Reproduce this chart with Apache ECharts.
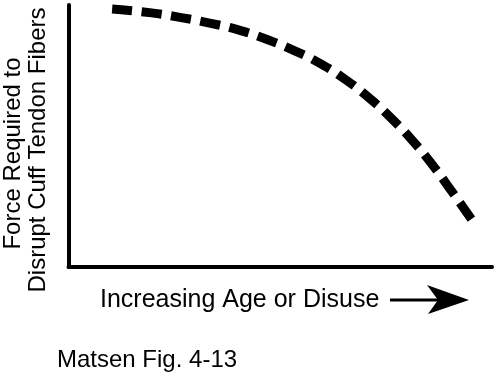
<!DOCTYPE html>
<html>
<head>
<meta charset="utf-8">
<script src="https://cdn.jsdelivr.net/npm/echarts@6/dist/echarts.min.js"></script>
<style>
  html, body { margin: 0; padding: 0; background: #fff; }
  #main { width: 496px; height: 378px; }
</style>
</head>
<body>
<div id="main"></div>
<script>
// curve (x: age/disuse, y: force), 0-100 scale
var ageX   = [10.3, 19.6, 26.6, 33.3, 40.1, 46.9, 53.3, 59.6, 65.5, 71.0, 76.4, 81.1, 85.6, 89.6, 93.6, 95.3];
var forceY = [98.5, 97.0, 95.2, 93.1, 90.5, 86.8, 82.6, 77.5, 71.4, 64.5, 56.5, 48.5, 39.7, 30.9, 21.8, 17.9];

var yTitle1 = 'Force Required to';
var yTitle2 = 'Disrupt Cuff Tendon Fibers';
var xTitle  = 'Increasing Age or Disuse';
var caption = 'Matsen Fig. 4-13';

var font = '"Liberation Sans", Arial, Helvetica, sans-serif';

var pts = [];
for (var i = 0; i < ageX.length; i++) {
    pts.push([ageX[i], forceY[i]]);
}

var chart = echarts.init(document.getElementById('main'));

var option = {
    animation: false,
    grid: { left: 68.5, top: 5, right: 4, bottom: 111 },
    xAxis: {
        type: 'value',
        min: 0, max: 100,
        axisLine: { show: true, lineStyle: { color: '#000', width: 4 } },
        axisTick: { show: false },
        axisLabel: { show: false },
        splitLine: { show: false }
    },
    yAxis: {
        type: 'value',
        min: 0, max: 100,
        axisLine: { show: true, lineStyle: { color: '#000', width: 4 } },
        axisTick: { show: false },
        axisLabel: { show: false },
        splitLine: { show: false }
    },
    series: [{
        type: 'line',
        data: pts,
        smooth: 0.5,
        symbol: 'none',
        lineStyle: {
            color: '#000',
            width: 9,
            type: [20, 9.7],
            cap: 'butt',
            join: 'round'
        }
    }],
    graphic: [
        {
            type: 'text', x: 13.5, y: 153.5, rotation: Math.PI / 2,
            style: { text: yTitle1, font: '24px ' + font, fill: '#000', textAlign: 'center', textVerticalAlign: 'middle' }
        },
        {
            type: 'text', x: 38, y: 150, rotation: Math.PI / 2,
            style: { text: yTitle2, font: '24px ' + font, fill: '#000', textAlign: 'center', textVerticalAlign: 'middle' }
        },
        {
            type: 'text', x: 100, y: 300,
            style: { text: xTitle, font: '25px ' + font, fill: '#000', textAlign: 'left', textVerticalAlign: 'middle' }
        },
        {
            type: 'text', x: 57, y: 360,
            style: { text: caption, font: '24px ' + font, fill: '#000', textAlign: 'left', textVerticalAlign: 'middle' }
        },
        // arrow next to the x title
        {
            type: 'line',
            shape: { x1: 390, y1: 300, x2: 442, y2: 300 },
            style: { stroke: '#000', lineWidth: 3 }
        },
        {
            type: 'polygon',
            shape: { points: [[469, 300], [427, 285], [438, 300], [428, 314]] },
            style: { fill: '#000' }
        }
    ]
};

chart.setOption(option);
</script>
</body>
</html>
